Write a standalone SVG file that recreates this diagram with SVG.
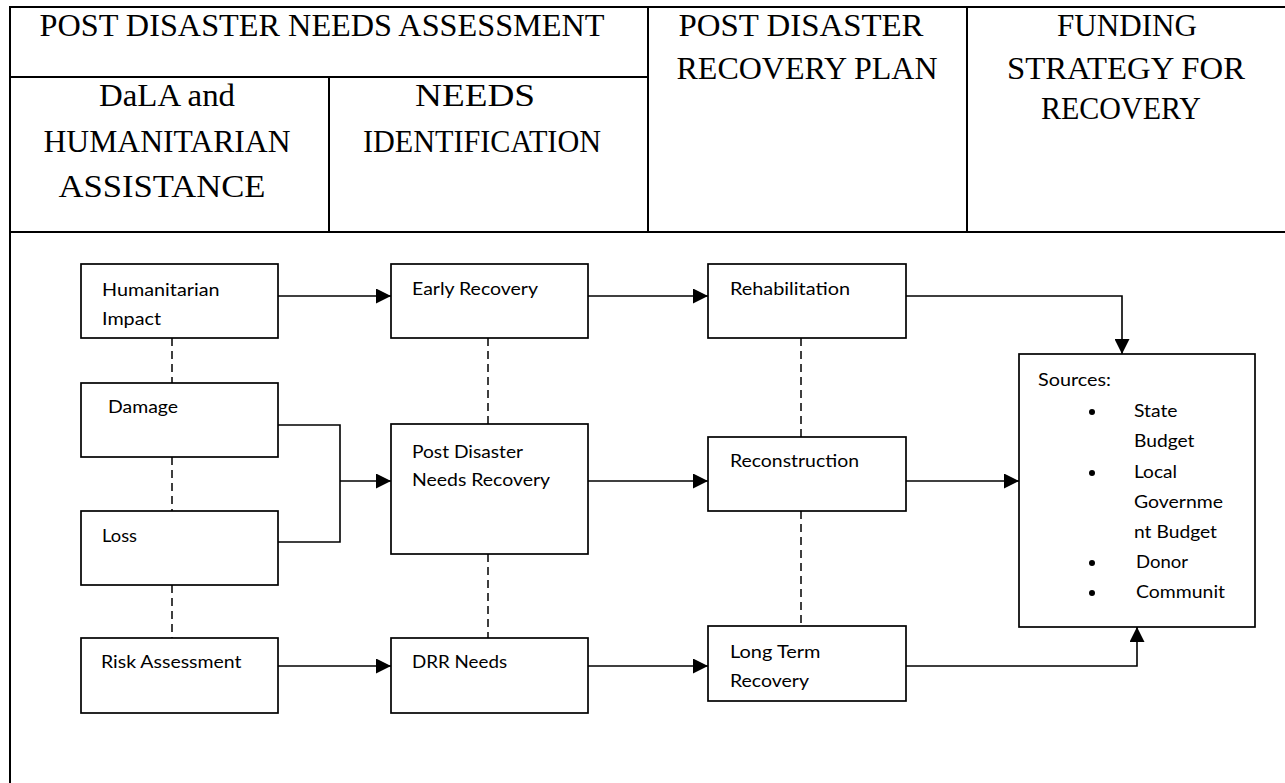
<svg xmlns="http://www.w3.org/2000/svg" width="1285" height="783" viewBox="0 0 1285 783">
<defs>
<style>
.tbl{stroke:#000;stroke-width:2;fill:none}
.hd{font-family:"Liberation Serif","Times New Roman",serif;font-size:32px;fill:#000}
.box{fill:#fff;stroke:#000;stroke-width:1.7}
.bt{font-family:Lato,"Liberation Sans",sans-serif;font-size:18px;fill:#000}
.con{fill:none;stroke:#000;stroke-width:1.6}
.dash{fill:none;stroke:#000;stroke-width:1.5;stroke-dasharray:8 5}
.bul{fill:#000}
</style>
<marker id="arr" markerUnits="userSpaceOnUse" markerWidth="15" markerHeight="15" refX="15" refY="7.5" orient="auto" viewBox="0 0 15 15">
<path d="M0,0 L15,7.5 L0,15 z" fill="#000"/>
</marker>
</defs>
<rect width="1285" height="783" fill="#fff"/>
<g id="table">
<path class="tbl" d="M9,7 H1285 M10,6 V783 M10,77 H648 M329,77 V232 M648,7 V232 M967,7 V232 M10,232 H1285"/>
<text class="hd" x="322" y="36" text-anchor="middle" textLength="565" lengthAdjust="spacingAndGlyphs">POST DISASTER NEEDS ASSESSMENT</text>
<text class="hd" x="167" y="106" text-anchor="middle" textLength="136" lengthAdjust="spacingAndGlyphs">DaLA and</text>
<text class="hd" x="167" y="152" text-anchor="middle" textLength="247" lengthAdjust="spacingAndGlyphs">HUMANITARIAN</text>
<text class="hd" x="162" y="197" text-anchor="middle" textLength="207" lengthAdjust="spacingAndGlyphs">ASSISTANCE</text>
<text class="hd" x="475" y="106" text-anchor="middle" textLength="120" lengthAdjust="spacingAndGlyphs">NEEDS</text>
<text class="hd" x="482" y="152" text-anchor="middle" textLength="238" lengthAdjust="spacingAndGlyphs">IDENTIFICATION</text>
<text class="hd" x="801" y="36" text-anchor="middle" textLength="245" lengthAdjust="spacingAndGlyphs">POST DISASTER</text>
<text class="hd" x="807" y="79" text-anchor="middle" textLength="261" lengthAdjust="spacingAndGlyphs">RECOVERY PLAN</text>
<text class="hd" x="1127" y="36" text-anchor="middle" textLength="140" lengthAdjust="spacingAndGlyphs">FUNDING</text>
<text class="hd" x="1126" y="79" text-anchor="middle" textLength="238" lengthAdjust="spacingAndGlyphs">STRATEGY FOR</text>
<text class="hd" x="1121" y="119" text-anchor="middle" textLength="160" lengthAdjust="spacingAndGlyphs">RECOVERY</text>
</g>
<g id="connectors">
<path class="dash" d="M172,338 V383 M172,457 V511 M172,585 V638 M488,338 V424 M488,554 V638 M801,338 V437 M801,511 V626"/>
<path class="con" d="M278,296 H391" marker-end="url(#arr)"/>
<path class="con" d="M588,296 H708" marker-end="url(#arr)"/>
<path class="con" d="M906,296 H1122 V354" marker-end="url(#arr)"/>
<path class="con" d="M278,425 H340 V542 H278"/>
<path class="con" d="M340,481 H391" marker-end="url(#arr)"/>
<path class="con" d="M588,481 H708" marker-end="url(#arr)"/>
<path class="con" d="M906,481 H1019" marker-end="url(#arr)"/>
<path class="con" d="M278,666 H391" marker-end="url(#arr)"/>
<path class="con" d="M588,666 H708" marker-end="url(#arr)"/>
<path class="con" d="M906,666 H1137 V627" marker-end="url(#arr)"/>
</g>
<g id="humanitarian">
<rect class="box" x="81" y="264" width="197" height="74"/>
<text class="bt" x="102" y="296" textLength="117.5" lengthAdjust="spacingAndGlyphs">Humanitarian</text>
<text class="bt" x="102" y="325" textLength="59" lengthAdjust="spacingAndGlyphs">Impact</text>
</g>
<g id="early-recovery">
<rect class="box" x="391" y="264" width="197" height="74"/>
<text class="bt" x="412" y="295" textLength="126" lengthAdjust="spacingAndGlyphs">Early Recovery</text>
</g>
<g id="rehabilitation">
<rect class="box" x="708" y="264" width="198" height="74"/>
<text class="bt" x="730" y="295" textLength="120" lengthAdjust="spacingAndGlyphs">Rehabilitation</text>
</g>
<g id="damage">
<rect class="box" x="81" y="383" width="197" height="74"/>
<text class="bt" x="108" y="413" textLength="70" lengthAdjust="spacingAndGlyphs">Damage</text>
</g>
<g id="pdnr">
<rect class="box" x="391" y="424" width="197" height="130"/>
<text class="bt" x="412" y="458" textLength="111" lengthAdjust="spacingAndGlyphs">Post Disaster</text>
<text class="bt" x="412" y="486" textLength="138" lengthAdjust="spacingAndGlyphs">Needs Recovery</text>
</g>
<g id="reconstruction">
<rect class="box" x="708" y="437" width="198" height="74"/>
<text class="bt" x="730" y="467" textLength="129" lengthAdjust="spacingAndGlyphs">Reconstruction</text>
</g>
<g id="loss">
<rect class="box" x="81" y="511" width="197" height="74"/>
<text class="bt" x="102" y="542" textLength="35" lengthAdjust="spacingAndGlyphs">Loss</text>
</g>
<g id="risk-assessment">
<rect class="box" x="81" y="638" width="197" height="75"/>
<text class="bt" x="101" y="668" textLength="140.5" lengthAdjust="spacingAndGlyphs">Risk Assessment</text>
</g>
<g id="drr-needs">
<rect class="box" x="391" y="638" width="197" height="75"/>
<text class="bt" x="412" y="668" textLength="95" lengthAdjust="spacingAndGlyphs">DRR Needs</text>
</g>
<g id="long-term">
<rect class="box" x="708" y="626" width="198" height="75"/>
<text class="bt" x="730" y="658" textLength="90.5" lengthAdjust="spacingAndGlyphs">Long Term</text>
<text class="bt" x="730" y="687" textLength="79" lengthAdjust="spacingAndGlyphs">Recovery</text>
</g>
<g id="sources">
<rect class="box" x="1019" y="354" width="236" height="273"/>
<text class="bt" x="1038" y="386" textLength="73" lengthAdjust="spacingAndGlyphs">Sources:</text>
<circle class="bul" cx="1092" cy="412" r="3"/>
<text class="bt" x="1134" y="417" textLength="43.5" lengthAdjust="spacingAndGlyphs">State</text>
<text class="bt" x="1134" y="447" textLength="60.5" lengthAdjust="spacingAndGlyphs">Budget</text>
<circle class="bul" cx="1092" cy="473" r="3"/>
<text class="bt" x="1134" y="478" textLength="43" lengthAdjust="spacingAndGlyphs">Local</text>
<text class="bt" x="1134" y="508" textLength="89" lengthAdjust="spacingAndGlyphs">Governme</text>
<text class="bt" x="1134" y="538" textLength="83" lengthAdjust="spacingAndGlyphs">nt Budget</text>
<circle class="bul" cx="1092" cy="563" r="3"/>
<text class="bt" x="1136" y="568" textLength="52" lengthAdjust="spacingAndGlyphs">Donor</text>
<circle class="bul" cx="1092" cy="593" r="3"/>
<text class="bt" x="1136" y="598" textLength="89" lengthAdjust="spacingAndGlyphs">Communit</text>
</g>
</svg>
